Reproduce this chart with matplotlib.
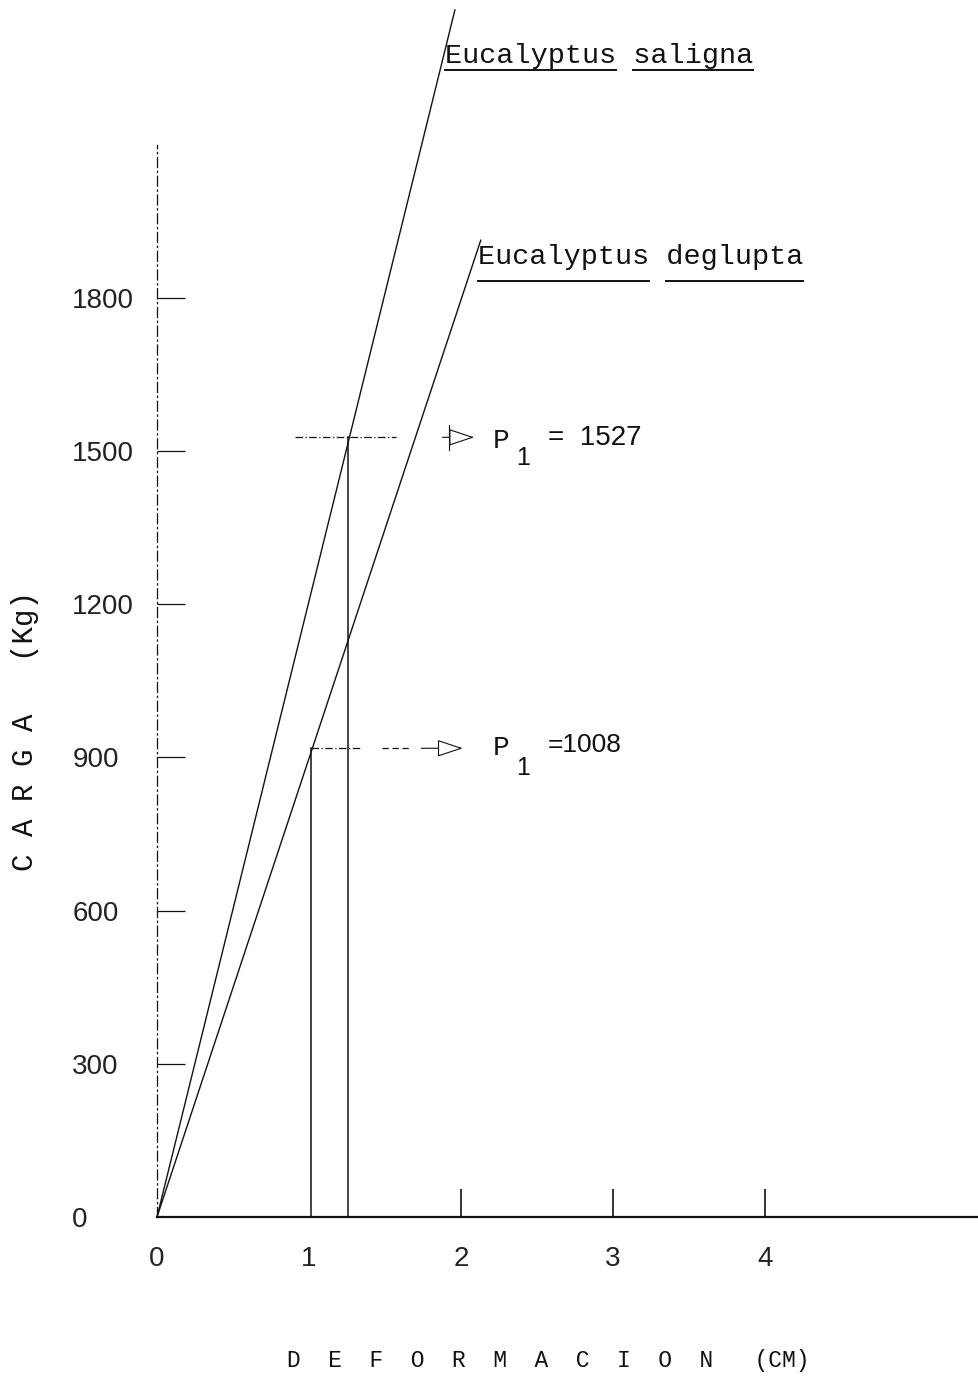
import matplotlib
matplotlib.use("Agg")
import matplotlib.pyplot as plt
from matplotlib.lines import Line2D

# ---------------- data ----------------
species = ["Eucalyptus saligna", "Eucalyptus deglupta"]
line_x_end = [1.96, 2.13]          # deformation (cm) at end of drawn line
line_y_end = [2364, 1913]          # load (kg) at end of drawn line
p1_values = [1527, 1008]           # labelled P1
p1_load = [1527, 918]              # load level where the guide line is drawn
p1_defl = [1.257, 1.015]           # deformation of the vertical guide
ytick_vals = [0, 300, 600, 900, 1200, 1500, 1800]
ytick_labels = ["0", "300", "600", "900", "1200", "1500", "1800"]
xtick_vals = [0, 1, 2, 3, 4]
xtick_labels = ["0", "1", "2", "3", "4"]

W, H = 979, 1379
fig = plt.figure(figsize=(W / 100, H / 100), dpi=100)
ax = fig.add_axes([157 / W, 162 / H, 822 / W, 1217 / H])
ax.set_xlim(0, 822 / 152)
ax.set_ylim(0, 1217 / 0.5106)

mono = "Liberation Mono"
sans = "Liberation Sans"
ink = "#111111"

# spines
for s in ["top", "right"]:
    ax.spines[s].set_visible(False)
ax.spines["left"].set_bounds(0, 2100)
ax.spines["left"].set_linestyle((0, (8, 3, 1, 3)))
ax.spines["left"].set_linewidth(0.9)
ax.spines["left"].set_color(ink)
ax.spines["bottom"].set_linewidth(1.6)
ax.spines["bottom"].set_color(ink)

# ticks
ax.set_yticks(ytick_vals)
ax.set_yticklabels(ytick_labels, fontfamily=sans, fontsize=20, color="#222222")
ax.tick_params(axis="y", direction="in", length=20, width=0.9, pad=61, color=ink)
for lab in ax.get_yticklabels():
    lab.set_horizontalalignment("left")
ax.set_xticks(xtick_vals)
ax.set_xticklabels(xtick_labels, fontfamily=sans, fontsize=20, color="#222222")
ax.tick_params(axis="x", direction="in", length=20, width=1.2, pad=21, color=ink)
# no tick marks where the axis / guide lines already are
ax.yaxis.get_major_ticks()[0].tick1line.set_visible(False)
for i in (0, 1):
    ax.xaxis.get_major_ticks()[i].tick1line.set_visible(False)

# main lines
for xe, ye in zip(line_x_end, line_y_end):
    ax.plot([0, xe], [0, ye], color=ink, lw=1.0, clip_on=False)

# vertical guides
for xd, yl in zip(p1_defl, p1_load):
    ax.plot([xd, xd], [0, yl], color=ink, lw=1.1)

arrow_kw = dict(arrowstyle="-|>,head_width=0.3,head_length=0.9",
                fc="white", ec=ink, lw=0.8, mutation_scale=18)

# horizontal guide for saligna
ax.plot([0.91, 1.57], [p1_load[0], p1_load[0]], color=ink, lw=0.9,
        ls=(0, (6, 2, 1, 2)))
ax.annotate("", xy=(2.105, p1_load[0]), xytext=(1.86, p1_load[0]),
            arrowprops=arrow_kw)
ax.plot([1.92, 1.92], [p1_load[0] - 25, p1_load[0] + 25], color=ink, lw=0.8)

# horizontal guide for deglupta
ax.plot([p1_defl[1], 1.35], [p1_load[1], p1_load[1]], color=ink, lw=0.9,
        ls=(0, (6, 2, 1, 2)))
ax.plot([1.48, 1.68], [p1_load[1], p1_load[1]], color=ink, lw=0.9,
        ls=(0, (5, 3)))
ax.annotate("", xy=(2.03, p1_load[1]), xytext=(1.72, p1_load[1]),
            arrowprops=arrow_kw)

# P1 labels
def p1_label(x_p, y_base, y_sub, x_eq, text, size):
    ax.text(x_p, y_base, "P", fontfamily=mono, fontsize=20, color=ink,
            ha="left", va="baseline")
    ax.text(x_p + 0.15, y_sub, "1", fontfamily=sans, fontsize=18, color=ink,
            ha="left", va="baseline")
    ax.text(x_eq, y_base + 6, text, fontfamily=sans, fontsize=size, color=ink,
            ha="left", va="baseline")

p1_label(2.21, 1506, 1473, 2.57, "=  %d" % p1_values[0], 20)
p1_label(2.21, 905, 866, 2.57, "=%d" % p1_values[1], 19)

# species labels
t1 = ax.text(1.895, 2260, species[0], fontfamily=mono, fontsize=20.5,
             color=ink, ha="left", va="baseline", clip_on=False)
t2 = ax.text(2.11, 1866, species[1], fontfamily=mono, fontsize=20.5,
             color=ink, ha="left", va="baseline", clip_on=False)

# axis labels
fig.text(25 / W, 1 - 731 / H, "C A R G A   (Kg)", rotation=90, ha="center",
         va="center", fontfamily=mono, fontsize=21, color=ink)
fig.text(548 / W, 1 - 1360 / H, "D  E  F  O  R  M  A  C  I  O  N   (CM)",
         ha="center", va="center", fontfamily=mono, fontsize=16.5, color=ink)

# underlines, word by word
fig.canvas.draw()
renderer = fig.canvas.get_renderer()
inv = fig.transFigure.inverted()
for t, off in [(t1, 7), (t2, 17)]:
    s = t.get_text()
    bb = t.get_window_extent(renderer)
    cw = bb.width / len(s)
    base = ax.transData.transform(t.get_position())[1]
    start = 0
    for word in s.split(" "):
        i0, i1 = start, start + len(word)
        x0, x1 = bb.x0 + i0 * cw, bb.x0 + i1 * cw
        y = base - off
        (fx0, fy), (fx1, _) = inv.transform([(x0, y), (x1, y)])
        fig.add_artist(Line2D([fx0, fx1], [fy, fy], color=ink, lw=1.4))
        start = i1 + 1

fig.savefig("out.png", dpi=100, facecolor="white")
